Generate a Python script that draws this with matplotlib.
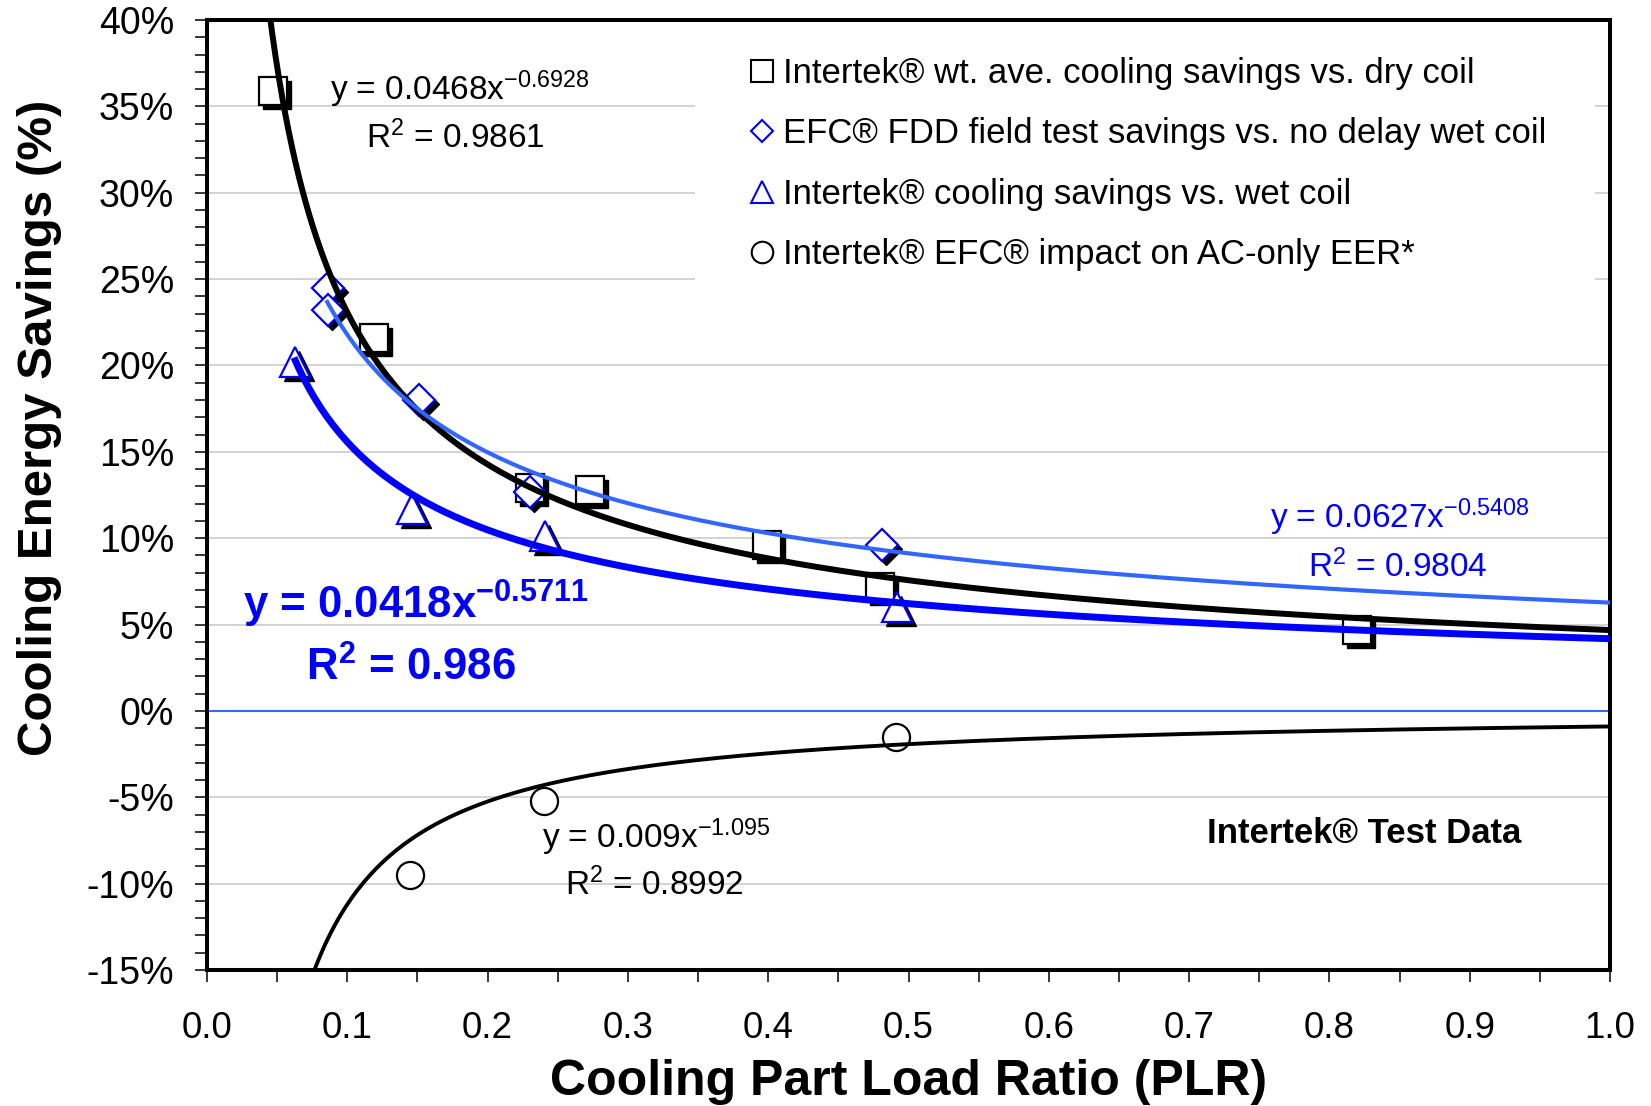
import numpy as np
import matplotlib
matplotlib.use("Agg")
import matplotlib.pyplot as plt
from matplotlib.lines import Line2D
from matplotlib.patches import Rectangle
from matplotlib.transforms import offset_copy
from matplotlib.ticker import MultipleLocator, FuncFormatter, FormatStrFormatter

plt.rcParams['font.family'] = ['Liberation Sans', 'DejaVu Sans']
plt.rcParams['mathtext.fontset'] = 'custom'
plt.rcParams['mathtext.rm'] = 'Liberation Sans'
plt.rcParams['mathtext.it'] = 'Liberation Sans:italic'
plt.rcParams['mathtext.bf'] = 'Liberation Sans:bold'

# punkty pomiarowe: PLR i oszczednosc w %
dry_plr = [0.047, 0.119, 0.230, 0.273, 0.399, 0.480, 0.820]
dry_sav = [35.9, 21.6, 12.9, 12.8, 9.6, 7.2, 4.7]

fdd_plr = [0.086, 0.086, 0.151, 0.230, 0.481]
fdd_sav = [24.5, 23.2, 18.0, 12.7, 9.6]

wet_plr = [0.063, 0.146, 0.241, 0.492]
wet_sav = [20.2, 11.7, 10.1, 6.0]

eer_plr = [0.145, 0.240, 0.491]
eer_sav = [-9.5, -5.2, -1.5]

series_labels = ["Intertek® wt. ave. cooling savings vs. dry coil",
                 "EFC® FDD field test savings vs. no delay wet coil",
                 "Intertek® cooling savings vs. wet coil",
                 "Intertek® EFC® impact on AC-only EER*"]

# linie trendu z wykresu: y = a * x^b
fit_a = [0.0468, 0.0627, 0.0418, -0.009]
fit_b = [-0.6928, -0.5408, -0.5711, -1.095]
fit_r2 = ["0.9861", "0.9804", "0.986", "0.8992"]
fit_x0 = [0.044, 0.085, 0.062, 0.075]

BLUE = '#0000FF'
LBLUE = '#3366FF'

fig = plt.figure(figsize=(16.51, 11.06), dpi=100)
ax = fig.add_axes([207/1651, 1 - 970/1106, 1403/1651, 950/1106])
shadow = offset_copy(ax.transData, fig=fig, x=4, y=-4, units='dots')

#markery z cieniem
ms_sq, ms_d, ms_t, ms_c = 19.5, 16.5, 21, 19.5
ax.plot(dry_plr, dry_sav, 's', ms=ms_sq, color='black', transform=shadow, zorder=3)
ax.plot(dry_plr, dry_sav, 's', ms=ms_sq, mfc='white', mec='black', mew=1.6, zorder=4)
ax.plot(fdd_plr, fdd_sav, 'D', ms=ms_d, color='black', transform=shadow, zorder=3)
ax.plot(fdd_plr, fdd_sav, 'D', ms=ms_d, mfc='white', mec=BLUE, mew=1.6, zorder=4)
ax.plot(wet_plr, wet_sav, '^', ms=ms_t, color='black', transform=shadow, zorder=3)
ax.plot(wet_plr, wet_sav, '^', ms=ms_t, mfc='white', mec=BLUE, mew=1.6, zorder=4)
ax.plot(eer_plr, eer_sav, 'o', ms=ms_c, mfc='white', mec='black', mew=1.6, zorder=4)

#linie trendu
fit_colors = ['black', LBLUE, BLUE, 'black']
fit_lw = [4.3, 3.0, 5.0, 2.8]
for a, b, x0, col, lw in zip(fit_a, fit_b, fit_x0, fit_colors, fit_lw):
    xs = np.linspace(x0, 1.0, 400)
    ax.plot(xs, 100 * a * xs ** b, color=col, lw=lw, zorder=5, solid_capstyle='butt')

ax.axhline(0, color=LBLUE, lw=1.5, zorder=2)

ax.set_xlim(0, 1.0)
ax.set_ylim(-15, 40)
ax.xaxis.set_major_locator(MultipleLocator(0.1))
ax.xaxis.set_minor_locator(MultipleLocator(0.05))
ax.yaxis.set_major_locator(MultipleLocator(5))
ax.yaxis.set_minor_locator(MultipleLocator(1))
ax.xaxis.set_major_formatter(FormatStrFormatter('%.1f'))
ax.yaxis.set_major_formatter(FuncFormatter(lambda v, p: f"{v:.0f}%"))
ax.tick_params(axis='both', which='both', direction='out', length=8.6, width=1.1)
ax.tick_params(axis='y', labelsize=27, pad=15)
ax.tick_params(axis='x', labelsize=26.5, pad=21)
ax.yaxis.grid(True, which='major', color='#c8c8c8', lw=1.1)
ax.set_axisbelow(True)
for s in ax.spines.values():
    s.set_linewidth(2.9)

ax.set_xlabel("Cooling Part Load Ratio (PLR)", fontsize=36, weight='bold')
ax.xaxis.set_label_coords(0.5, -0.094)
ax.set_ylabel("Cooling Energy Savings (%)", fontsize=35.5, weight='bold')
ax.yaxis.set_label_coords(-0.1035, 0.5705)

# biale tlo legendy
ax.add_patch(Rectangle((0.348, 0.722), 0.641, 0.278, transform=ax.transAxes,
                       fc='white', ec='none', zorder=1))
handles = [Line2D([], [], ls='none', marker='s', ms=15.5, mfc='white', mec='black', mew=1.5),
           Line2D([], [], ls='none', marker='D', ms=11, mfc='white', mec=BLUE, mew=1.5),
           Line2D([], [], ls='none', marker='^', ms=16.5, mfc='white', mec=BLUE, mew=1.5),
           Line2D([], [], ls='none', marker='o', ms=15.5, mfc='white', mec='black', mew=1.5)]
ax.legend(handles, series_labels, loc='upper left', bbox_to_anchor=(0.386, 0.961),
          frameon=False, fontsize=25, handlelength=0.8, handletextpad=0.2,
          labelspacing=0.79, borderpad=0, borderaxespad=0)

def eq(i):
    return f"y = {abs(fit_a[i])}x$^{{{fit_b[i]}}}$"

ax.text(0.0877, 35.37, eq(0), fontsize=24, va='baseline')
ax.text(0.1133, 32.56, f"R$^{{2}}$ = {fit_r2[0]}", fontsize=24, va='baseline')
ax.text(0.758, 10.61, eq(1), fontsize=24, color=BLUE, va='baseline')
ax.text(0.785, 7.75, f"R$^{{2}}$ = {fit_r2[1]}", fontsize=24, color=BLUE, va='baseline')
ax.text(0.0257, 5.32, f"y = {fit_a[2]}x$^{{\\mathbf{{{fit_b[2]}}}}}$", fontsize=31.5,
        weight='bold', color=BLUE, va='baseline')
ax.text(0.0706, 1.73, f"R$^{{\\mathbf{{2}}}}$ = {fit_r2[2]}", fontsize=31.5,
        weight='bold', color=BLUE, va='baseline')
ax.text(0.2388, -7.94, eq(3), fontsize=24, va='baseline')
ax.text(0.2555, -10.67, f"R$^{{2}}$ = {fit_r2[3]}", fontsize=24, va='baseline')
ax.text(0.825, -7.65, "Intertek® Test Data", fontsize=25, weight='bold', ha='center',
        va='baseline')

fig.savefig('out.png', dpi=100)
